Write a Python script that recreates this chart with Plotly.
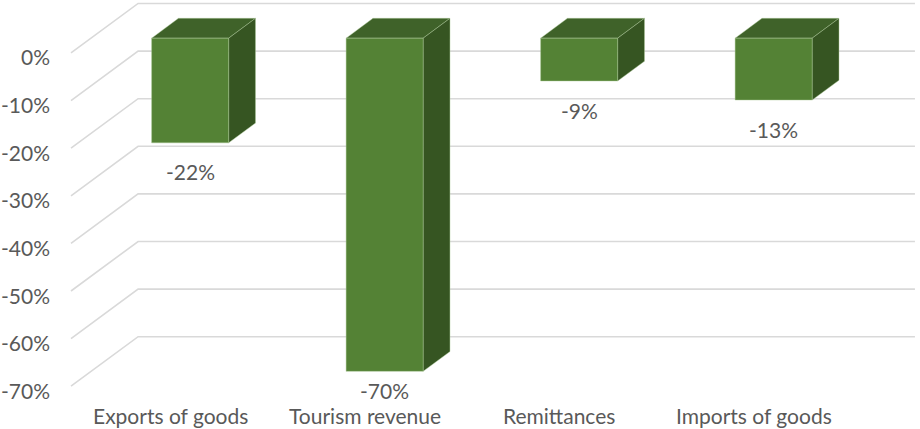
import plotly.graph_objects as go

# ---- data -------------------------------------------------------------
categories = ["Exports of goods", "Tourism revenue", "Remittances", "Imports of goods"]
values = [-22, -70, -9, -13]                 # percent change
tick_values = [0, -10, -20, -30, -40, -50, -60, -70]
tick_labels = ["0%", "-10%", "-20%", "-30%", "-40%", "-50%", "-60%", "-70%"]

# ---- 3D-look geometry (axis units: x = category index, y = percent) ----
DEPTH_X = 0.345        # horizontal shift from the front edge to the back wall
DEPTH_Y = 10.4         # vertical shift from the front edge to the back wall
BAR_FRONT = 0.30       # bar front face as fraction of depth
BAR_BACK = 0.70        # bar back face as fraction of depth
HALF_W = 0.198         # half width of a bar
GRID_X0 = -0.509       # left end of the floor gridlines
GRID_X1 = 3.83         # right end of the back-wall gridlines
LABEL_GAP = 6.1        # gap between bar bottom and its value label
LABEL_FLOOR = -71.0    # lowest position for value labels
CAT_Y = -76.2          # category label row

FRONT = "#548235"
TOP = "#3F6229"
SIDE = "#365522"
EDGE = "rgba(170,200,150,0.55)"
GRID = "#D9D9D9"
TEXT = "#595959"
FONT = "Lato"
FSIZE = 21

fig = go.Figure()

# gridlines: diagonal across the floor, then along the back wall
for t in tick_values:
    fig.add_trace(go.Scatter(
        x=[GRID_X0, GRID_X0 + DEPTH_X, GRID_X1],
        y=[t, t + DEPTH_Y, t + DEPTH_Y],
        mode="lines", line=dict(color=GRID, width=1.6),
        hoverinfo="skip", showlegend=False))

def poly(xs, ys, color):
    fig.add_trace(go.Scatter(
        x=xs + [xs[0]], y=ys + [ys[0]], mode="lines", fill="toself",
        fillcolor=color, line=dict(color=EDGE, width=0.8),
        hoverinfo="skip", showlegend=False))

fx, fy = BAR_FRONT * DEPTH_X, BAR_FRONT * DEPTH_Y
bx, by = BAR_BACK * DEPTH_X, BAR_BACK * DEPTH_Y

for i, v in enumerate(values):
    xl, xr = i - HALF_W, i + HALF_W
    # top face
    poly([xl + fx, xr + fx, xr + bx, xl + bx], [fy, fy, by, by], TOP)
    # right side face
    poly([xr + fx, xr + bx, xr + bx, xr + fx], [fy, by, v + by, v + fy], SIDE)
    # front face
    poly([xl + fx, xr + fx, xr + fx, xl + fx], [fy, fy, v + fy, v + fy], FRONT)

annotations = []
# value labels below each bar
for i, v in enumerate(values):
    annotations.append(dict(
        x=i + fx, y=max(v + fy - LABEL_GAP, LABEL_FLOOR), text=f"{v}%",
        showarrow=False, xanchor="center", yanchor="middle",
        font=dict(family=FONT, size=FSIZE, color=TEXT)))

# category labels
for i, c in enumerate(categories):
    annotations.append(dict(
        x=i, y=CAT_Y, text=c, showarrow=False, xanchor="center",
        yanchor="middle", font=dict(family=FONT, size=FSIZE, color=TEXT)))

# value-axis labels at the front of the floor
for t, lab in zip(tick_values, tick_labels):
    annotations.append(dict(
        x=GRID_X0, y=t, text=lab, showarrow=False, xanchor="right",
        yanchor="middle", xshift=-19, yshift=-4,
        font=dict(family=FONT, size=FSIZE, color=TEXT)))

fig.update_layout(
    width=920, height=429,
    margin=dict(l=0, r=0, t=0, b=0),
    paper_bgcolor="white", plot_bgcolor="white",
    xaxis=dict(range=[-0.874, 3.856], visible=False, fixedrange=True),
    yaxis=dict(range=[-78.99, 11.13], visible=False, fixedrange=True),
    annotations=annotations,
    showlegend=False,
)

fig.write_html("out.html")
